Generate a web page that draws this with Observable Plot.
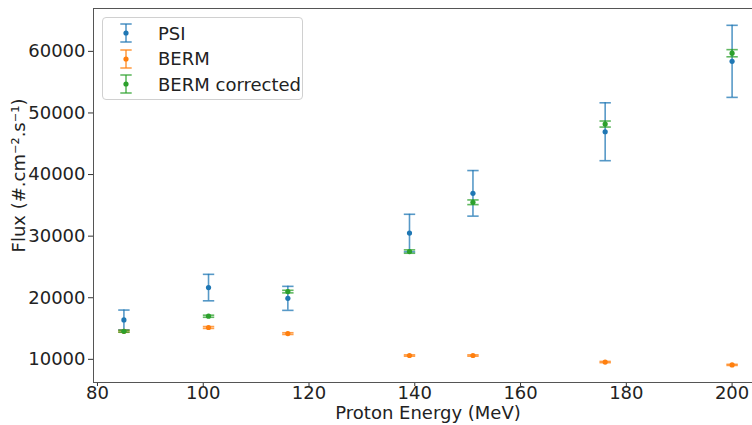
<!DOCTYPE html>
<html>
<head>
<meta charset="utf-8">
<script src="https://cdn.jsdelivr.net/npm/d3@7"></script>
<script src="https://cdn.jsdelivr.net/npm/@observablehq/plot@0.6"></script>
<style>
  html, body { margin: 0; padding: 0; background: white; overflow: hidden; }
  #wrap { position: relative; width: 752px; height: 425px; font-family: "DejaVu Sans", sans-serif; }
  #legend { position: absolute; left: 102px; top: 17px; width: 201px; height: 83px; border: 1px solid #d0d0d0; border-radius: 4px; background: rgba(255,255,255,0.8); box-sizing: border-box; }
  .row { position: absolute; left: 0; height: 26px; display: flex; align-items: center; font-size: 18px; color: #222; white-space: nowrap; }
  .row svg { margin-left: 16px; margin-right: 25px; }
</style>
</head>
<body>
<div id="wrap"></div>
<script>
// ---- data ----
const energy = [85, 101, 116, 139, 151, 176, 200];
const psiFlux = [16400, 21650, 19900, 30500, 36950, 46950, 58380];
const psiErr = [1600, 2150, 1950, 3050, 3700, 4700, 5850];
const bermFlux = [14550, 15170, 14180, 10620, 10620, 9560, 9100];
const bermErr = [150, 150, 140, 110, 110, 100, 90];
const corrFlux = [14550, 17000, 21000, 27500, 35500, 48200, 59700];
const corrErr = [150, 170, 210, 275, 380, 490, 580];
const seriesNames = ["PSI", "BERM", "BERM corrected"];
const seriesColors = ["#1f77b4", "#ff7f0e", "#2ca02c"];
const xTicks = [80, 100, 120, 140, 160, 180, 200];
const yTicks = [10000, 20000, 30000, 40000, 50000, 60000];
const xLabel = "Proton Energy (MeV)";
const yLabel = "Flux (#.cm\u207B\u00B2.s\u207B\u00B9)";

const values = [psiFlux, bermFlux, corrFlux];
const errors = [psiErr, bermErr, corrErr];

const rows = seriesNames.flatMap((s, i) =>
  energy.map((e, j) => ({ series: s, x: e, y: values[i][j], err: errors[i][j] }))
);

const capSymbol = {
  draw(ctx, size) {
    const w = Math.sqrt(size / Math.PI);
    ctx.moveTo(-w, 0);
    ctx.lineTo(w, 0);
  }
};

const seriesMarks = seriesNames.flatMap((s, i) => {
  const d = rows.filter(r => r.series === s);
  const c = seriesColors[i];
  return [
    Plot.ruleX(d, { x: "x", y1: r => r.y - r.err, y2: r => r.y + r.err, stroke: c, strokeWidth: 1.6, strokeOpacity: 0.75 }),
    Plot.dot(d, { x: "x", y: r => r.y + r.err, symbol: capSymbol, r: 5.7, fill: "none", stroke: c, strokeWidth: 1.6, strokeOpacity: 0.75 }),
    Plot.dot(d, { x: "x", y: r => r.y - r.err, symbol: capSymbol, r: 5.7, fill: "none", stroke: c, strokeWidth: 1.6, strokeOpacity: 0.75 }),
    Plot.dot(d, { x: "x", y: "y", r: 2.6, fill: c, stroke: "none" })
  ];
});

const chart = Plot.plot({
  width: 752,
  height: 425,
  marginLeft: 93,
  marginRight: -10,
  marginTop: 8,
  marginBottom: 43,
  style: { fontFamily: "DejaVu Sans, sans-serif", fontSize: "18px", color: "#222", background: "white" },
  x: { domain: [79.25, 205.75] },
  y: { domain: [6240, 66960] },
  marks: [
    Plot.axisX({ ticks: xTicks, tickSize: 4, tickPadding: 0, label: null, fontSize: 18, stroke: "#333" }),
    Plot.text([xLabel], { frameAnchor: "bottom", dy: 36, fontSize: 18, fill: "#222", textAnchor: "middle", lineAnchor: "bottom" }),
    Plot.axisY({ ticks: yTicks, tickFormat: d3.format("d"), tickSize: 5, tickPadding: 3, label: null, fontSize: 18, stroke: "#333" }),
    ...seriesMarks,
    Plot.frame({ stroke: "#555", strokeWidth: 1 }),
    Plot.text([yLabel], { frameAnchor: "left", rotate: -90, dx: -74, dy: -20, fontSize: 18, fill: "#222", textAnchor: "middle", lineAnchor: "middle" })
  ]
});

const wrap = document.getElementById("wrap");
wrap.appendChild(chart);

// legend
const legend = document.createElement("div");
legend.id = "legend";
seriesNames.forEach((s, i) => {
  const row = document.createElement("div");
  row.className = "row";
  row.style.top = (2 + i * 25.7) + "px";
  const c = seriesColors[i];
  row.innerHTML =
    `<svg width="14" height="20" viewBox="0 0 14 20">
       <g stroke="${c}" stroke-width="1.6" stroke-opacity="0.75">
         <line x1="7" x2="7" y1="1" y2="19"/>
         <line x1="1.3" x2="12.7" y1="1" y2="1"/>
         <line x1="1.3" x2="12.7" y1="19" y2="19"/>
       </g>
       <circle cx="7" cy="10" r="2.6" fill="${c}"/>
     </svg><span>${s}</span>`;
  legend.appendChild(row);
});
wrap.appendChild(legend);
</script>
</body>
</html>
